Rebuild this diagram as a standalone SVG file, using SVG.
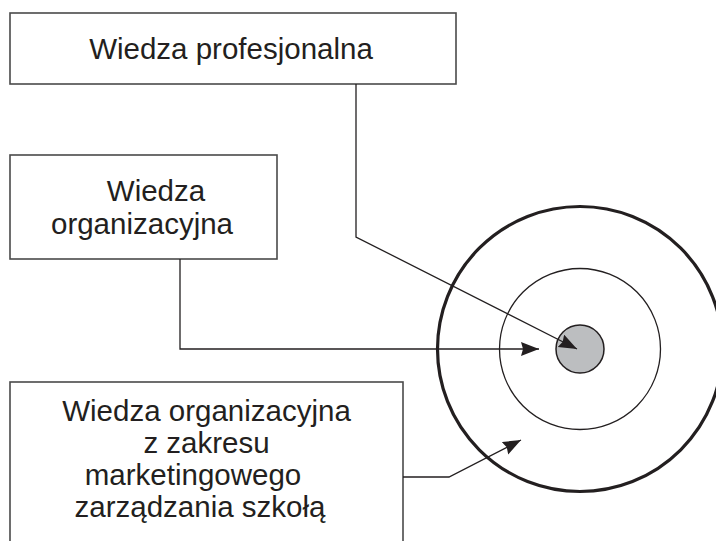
<svg xmlns="http://www.w3.org/2000/svg" width="716" height="541" viewBox="0 0 716 541">
<style>
.box{fill:#fff;stroke:#4a4a4a;stroke-width:1.6}
.lbl{font-family:"Liberation Sans",Arial,sans-serif;font-size:29.5px;fill:#231f20;text-anchor:middle}
.conn{fill:none;stroke:#231f20;stroke-width:1.3}
</style>
<defs>
<marker id="ah" markerUnits="userSpaceOnUse" markerWidth="20" markerHeight="16" refX="18" refY="7" orient="auto">
<path d="M0,0 L18,7 L0,14 L2,7 z" fill="#231f20"/>
</marker>
</defs>
<rect width="716" height="541" fill="#fff"/>
<g id="target">
<circle cx="580" cy="349" r="142.5" fill="none" stroke="#231f20" stroke-width="3.2"/>
<circle cx="580" cy="349" r="80.5" fill="none" stroke="#231f20" stroke-width="1.3"/>
<circle cx="580" cy="349" r="24" fill="#bcbec0" stroke="#231f20" stroke-width="1.5"/>
</g>
<g id="node-profesjonalna">
<rect class="box" x="10" y="13" width="446" height="71"/>
<text class="lbl" x="231" y="59">Wiedza profesjonalna</text>
</g>
<g id="node-organizacyjna">
<rect class="box" x="10" y="155" width="267" height="104"/>
<text class="lbl" x="156" y="201">Wiedza</text>
<text class="lbl" x="142" y="234">organizacyjna</text>
</g>
<g id="node-marketing">
<rect class="box" x="10" y="382" width="393" height="170"/>
<text class="lbl" x="206.5" y="421">Wiedza organizacyjna</text>
<text class="lbl" x="206.5" y="453">z zakresu</text>
<text class="lbl" x="193" y="485">marketingowego</text>
<text class="lbl" x="200" y="517">zarządzania szkołą</text>
</g>
<g id="connectors">
<polyline class="conn" points="356,84 356,237 577,349" marker-end="url(#ah)"/>
<polyline class="conn" points="180,259 180,349 539,349" marker-end="url(#ah)"/>
<polyline class="conn" points="403,477 449,477 521,440" marker-end="url(#ah)"/>
</g>
</svg>
